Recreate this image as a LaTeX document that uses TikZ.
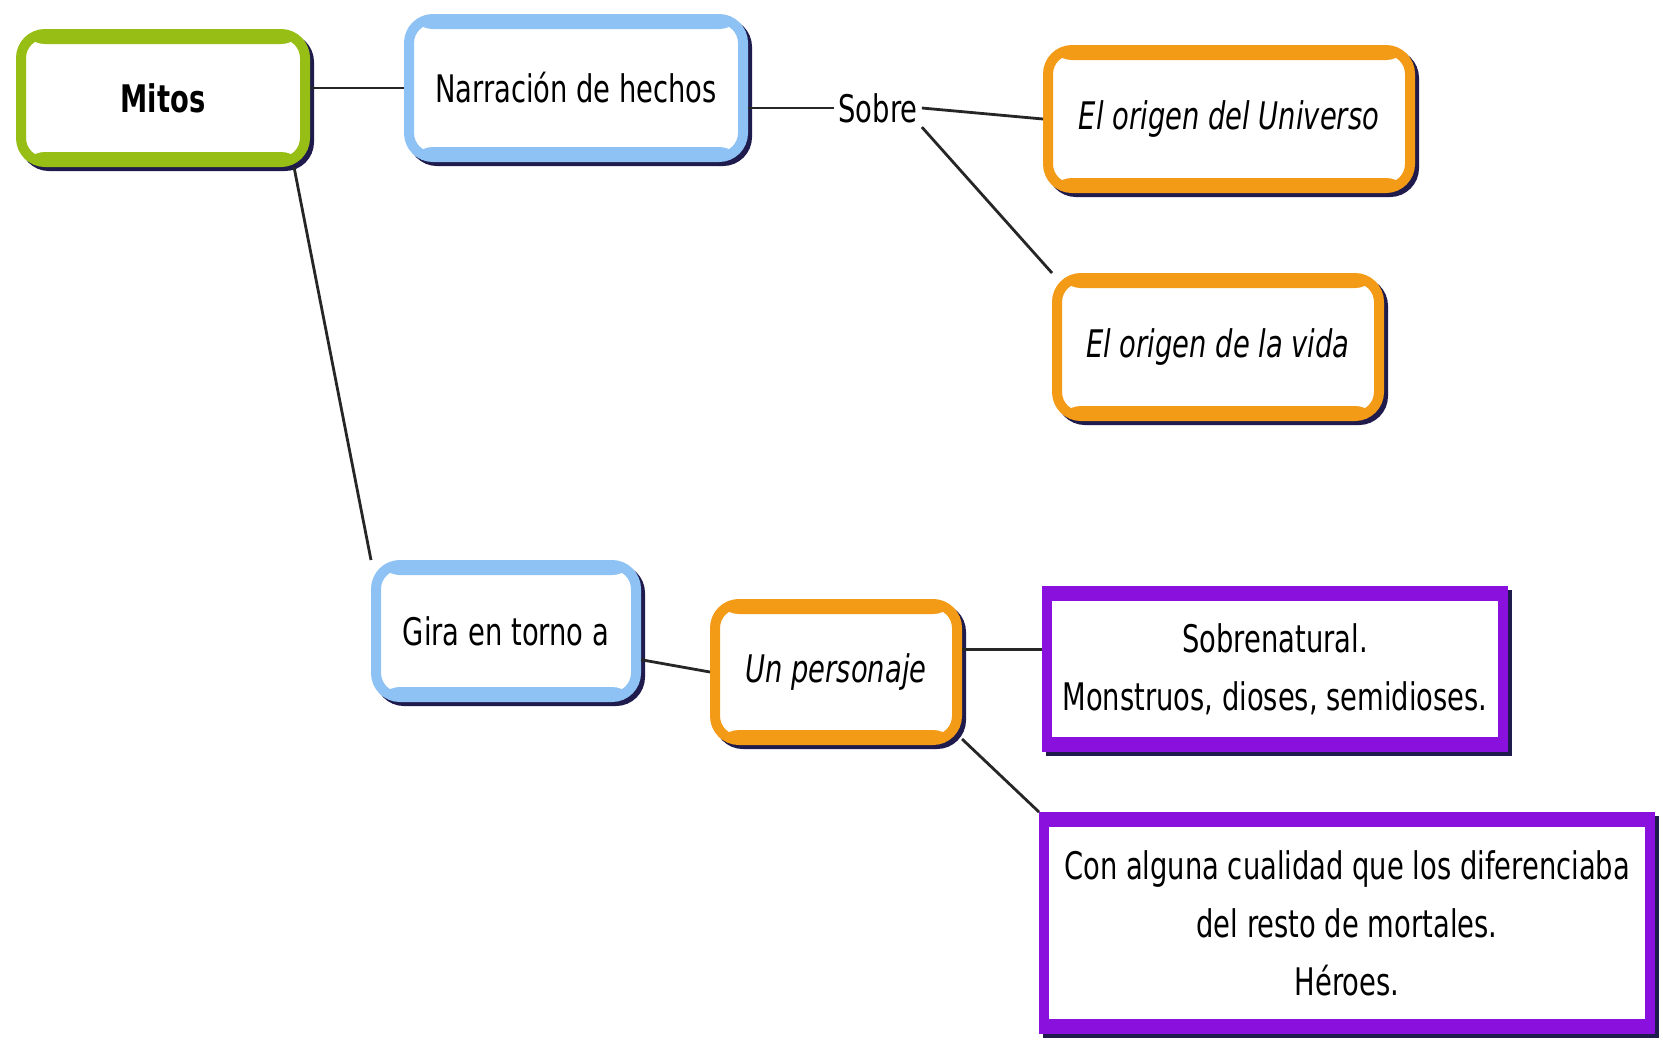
\documentclass[tikz,border=0pt]{standalone}
\usepackage{fontspec}
\setmainfont[FakeStretch=0.72]{DejaVu Sans}
\usetikzlibrary{shadows}
\definecolor{mitosc}{HTML}{96BE14}
\definecolor{bluec}{HTML}{8EC2F4}
\definecolor{orangec}{HTML}{F39A17}
\definecolor{purplec}{HTML}{8A10DD}
\definecolor{shadowc}{HTML}{1F1B4D}
\begin{document}
\begin{tikzpicture}[x=0.5pt,y=-0.5pt,
	box/.style={draw=#1, line width=5pt, fill=white, rounded corners=12pt, inner sep=0pt, align=center,
		font=\fontsize{19}{29}\selectfont,
		path picture={\fill[#1] (path picture bounding box.north west) rectangle ([yshift=-5pt]path picture bounding box.north east);
			\fill[#1] (path picture bounding box.south west) rectangle ([yshift=5pt]path picture bounding box.south east);},
		drop shadow={shadow xshift=2pt, shadow yshift=-2pt, fill=shadowc, draw=shadowc, line width=5pt, opacity=1}},
	sqbox/.style={box=#1, sharp corners},
	link/.style={line width=1.4pt, black!85}]
	\useasboundingbox (0,0) rectangle (1663,1041);
	\fill[white] (0,0) rectangle (1663,1041);
	\node[box=mitosc, minimum width=142pt, minimum height=64pt, font=\fontsize{19}{29}\selectfont\bfseries] (mitos) at (163,98) {Mitos};
	\node[box=bluec, minimum width=167pt, minimum height=69pt] (narr) at (576,88) {Narración de hechos};
	\node[inner sep=2pt, font=\fontsize{19}{29}\selectfont] (sobre) at (878,108) {Sobre};
	\node[box=orangec, minimum width=181pt, minimum height=69pt, font=\fontsize{19}{29}\selectfont\itshape] (univ) at (1229,119) {El origen del Universo};
	\node[box=orangec, minimum width=161pt, minimum height=69pt, font=\fontsize{19}{29}\selectfont\itshape] (vida) at (1218,347) {El origen de la vida};
	\node[box=bluec, minimum width=130pt, minimum height=66pt] (gira) at (506,631) {Gira en torno a};
	\node[box=orangec, minimum width=121pt, minimum height=68pt, font=\fontsize{19}{29}\selectfont\itshape] (pers) at (836,672) {Un personaje};
	\node[sqbox=purplec, minimum width=228pt, minimum height=78pt] (sobren) at (1275,669) {Sobrenatural.\\Monstruos, dioses, semidioses.};
	\node[sqbox=purplec, minimum width=303pt, minimum height=106pt] (heroes) at (1347,923) {Con alguna cualidad que los diferenciaba\\del resto de mortales.\\Héroes.};
	\draw[link] (mitos.east |- narr.west) -- (narr.west);
	\draw[link] (narr.east |- sobre.west) -- (sobre.west);
	\draw[link] (sobre.east) -- (univ.west);
	\draw[link] (sobre.south east) -- (vida.north west);
	\draw[link] ([xshift=-8pt]mitos.south east) -- (gira.north west);
	\draw[link] (gira.-12) -- (pers.west);
	\draw[link] (pers.10) -- (pers.10 -| sobren.west);
	\draw[link] (pers.-28) -- (heroes.north west);
\end{tikzpicture}
\end{document}
